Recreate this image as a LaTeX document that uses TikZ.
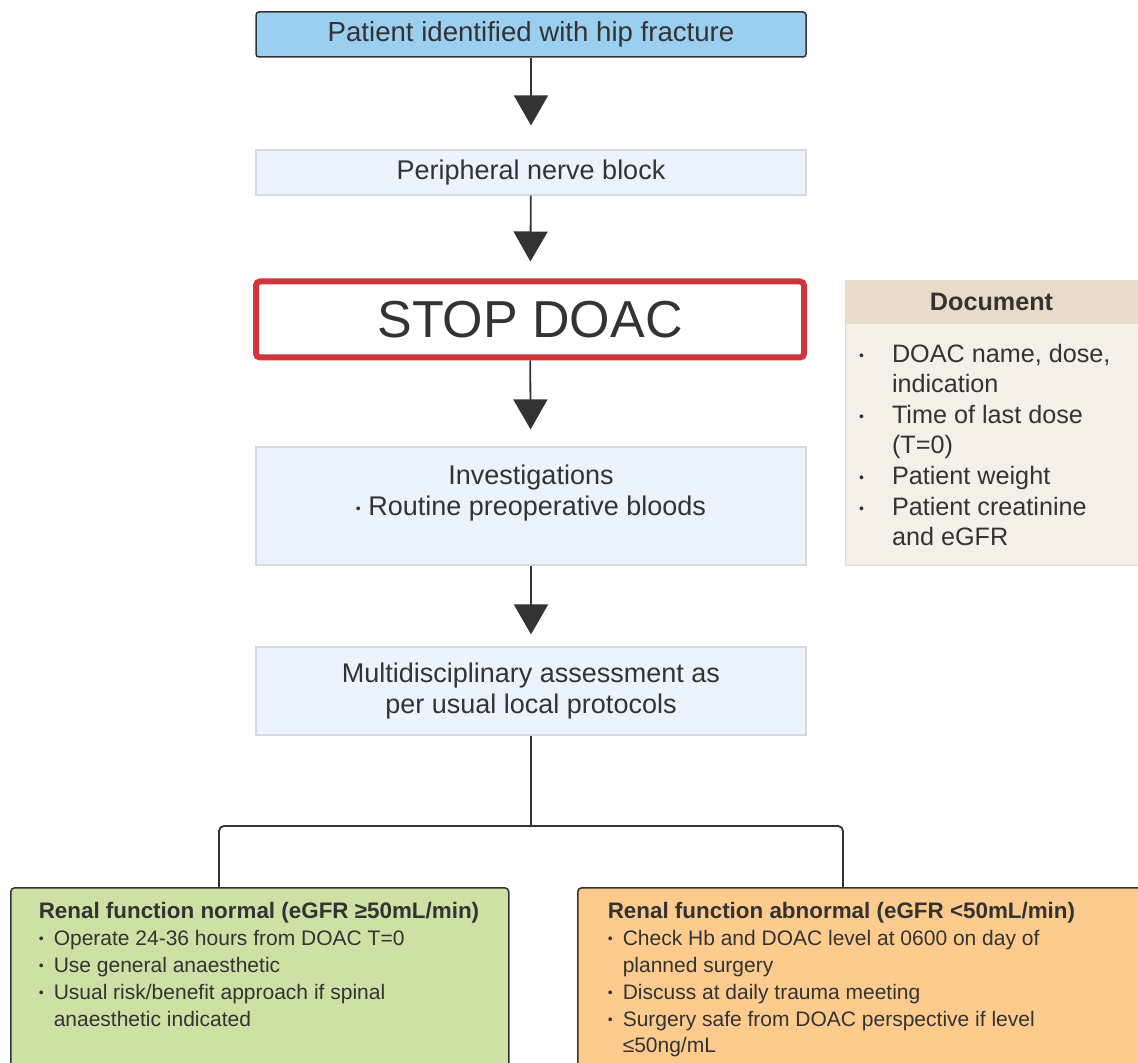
\documentclass[tikz,border=0pt]{standalone}
\usepackage{fontspec}
\setmainfont{Liberation Sans}
\usetikzlibrary{arrows.meta}

\definecolor{inkgrey}{RGB}{51,51,51}
\definecolor{boxblue}{RGB}{155,207,239}
\definecolor{paleblue}{RGB}{235,244,252}
\definecolor{paleedge}{RGB}{212,218,224}
\definecolor{stopred}{RGB}{209,52,58}
\definecolor{doctan}{RGB}{232,220,200}
\definecolor{docbg}{RGB}{244,240,232}
\definecolor{normalgreen}{RGB}{205,225,165}
\definecolor{abnormalorange}{RGB}{253,203,142}

\newcommand*{\smallbul}{\raisebox{0.9pt}{\fontsize{7}{7}\selectfont\textbullet}}
\newcommand*{\bitem}{\par\noindent\hangindent=7.5pt\hangafter=1\makebox[7.5pt][l]{\smallbul}}
\newcommand*{\ditem}{\par\noindent\hangindent=16.5pt\hangafter=1\makebox[16.5pt][l]{\smallbul}}

\begin{document}
\begin{tikzpicture}
[
	x=0.5pt, y=-0.5pt,
	inkline/.style={draw=inkgrey,line width=0.9pt},
	flow/.style={inkline,-{Triangle[width=17pt,length=15pt]},shorten >=8.5pt},
	midtext/.style={text=inkgrey,font=\fontsize{13.5}{15.5}\selectfont,align=center,inner sep=0pt},
	topbox/.style={midtext,fill=boxblue,draw=inkgrey,line width=0.75pt,rounded corners=1.5pt,
		minimum width=275pt,minimum height=22.5pt,font=\fontsize{13.8}{15.5}\selectfont},
	stepbox/.style={midtext,fill=paleblue,draw=paleedge,line width=0.6pt,
		minimum width=275pt,minimum height=22.5pt},
	stopbox/.style={midtext,draw=stopred,line width=3pt,rounded corners=2pt,
		minimum width=274pt,minimum height=38pt,font=\fontsize{26}{30}\selectfont},
	dochead/.style={text=inkgrey,fill=doctan,inner sep=0pt,minimum width=146.5pt,minimum height=21.5pt,
		font=\bfseries\fontsize{12.6}{15}\selectfont},
	docbody/.style={text=inkgrey,fill=docbg,draw=docbg!92!black,line width=0.4pt,inner sep=0pt,
		font=\fontsize{12.6}{15.3}\selectfont},
	outcome/.style={text=inkgrey,draw=inkgrey,line width=0.75pt,rounded corners=2pt,
		anchor=north west,inner ysep=0pt,font=\fontsize{10.5}{13.4}\selectfont}
]

	\useasboundingbox (0,0) rectangle (1138,1063);

	% main column
	\node[topbox] (patient) at (531,34.5) {Patient identified with hip fracture};
	\node[stepbox] (block) at (531,172.5) {Peripheral nerve block};
	\node[stopbox] (stop) at (530,319.5) {STOP DOAC};
	\node[stepbox,minimum height=59pt] (invest) at (531,506)
	  {\parbox[c][59pt][t]{270pt}{\centering\vspace*{9pt}Investigations\\
	   \smallbul\ Routine preoperative bloods}};
	\node[stepbox,minimum height=44pt] (assess) at (531,691)
	  {Multidisciplinary assessment as\\per usual local protocols};

	\draw[flow,shorten >=12pt] (patient) -- (block);
	\draw[flow] (block) -- (stop);
	\draw[flow] (stop) -- (invest);
	\draw[flow,shorten >=6pt] (invest) -- (assess);

	% side box
	\node[dochead] (dochd) at (991.5,301.5) {Document};
	\node[docbody,anchor=north] (docbd) at (dochd.south)
	  {\parbox[c][121pt][t]{146.5pt}{\raggedright\leftskip=7pt\vspace*{10pt}
	   \ditem DOAC name, dose,\newline indication
	   \ditem Time of last dose\newline (T=0)
	   \ditem Patient weight
	   \ditem Patient creatinine\newline and eGFR}};

	% outcomes
	\node[outcome,fill=normalgreen,inner xsep=14pt,minimum width=249pt] (normal) at (10,887)
	  {\parbox[c][94pt][t]{221pt}{\raggedright\vspace*{7.5pt}
	   {\bfseries\fontsize{11.2}{13.4}\selectfont Renal function normal (eGFR ≥50mL/min)}
	   \bitem Operate 24-36 hours from DOAC T=0
	   \bitem Use general anaesthetic
	   \bitem Usual risk/benefit approach if spinal\newline anaesthetic indicated}};
	\node[outcome,fill=abnormalorange,inner xsep=15pt,minimum width=284pt] (abnormal) at (577,887)
	  {\parbox[c][94pt][t]{254pt}{\raggedright\vspace*{7.5pt}
	   {\bfseries\fontsize{11.2}{13.4}\selectfont Renal function abnormal (eGFR <50mL/min)}
	   \bitem Check Hb and DOAC level at 0600 on day of\newline planned surgery
	   \bitem Discuss at daily trauma meeting
	   \bitem Surgery safe from DOAC perspective if level\newline ≤50ng/mL}};

	\coordinate (fork) at (531,826);
	\coordinate (lleg) at (219,826);
	\coordinate (rleg) at (843,826);
	\draw[inkline] (assess) -- (fork);
	\draw[inkline,rounded corners=2.5pt] (normal.north -| lleg) -- (lleg) -- (rleg) -- (abnormal.north -| rleg);

\end{tikzpicture}
\end{document}
